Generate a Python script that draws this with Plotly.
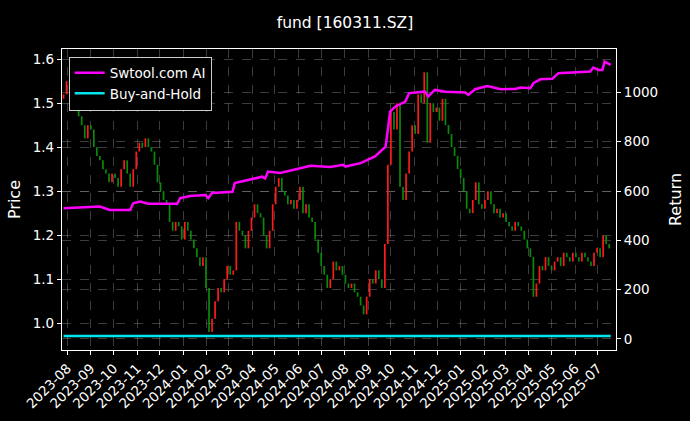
import plotly.graph_objects as go
import pandas as pd

# Prix de cloture (un point tous les 4 jours)
dates = pd.date_range('2023-07-27', periods=181, freq='4D')
close = [1.52, 1.55, 1.53, 1.54, 1.51, 1.47, 1.45, 1.42, 1.45, 1.44,
         1.40, 1.38, 1.37, 1.35, 1.34, 1.32, 1.34, 1.33, 1.31, 1.35,
         1.37, 1.34, 1.31, 1.35, 1.39, 1.41, 1.40, 1.42, 1.40, 1.39,
         1.36, 1.32, 1.30, 1.28, 1.27, 1.23, 1.21, 1.23, 1.22, 1.19,
         1.23, 1.21, 1.19, 1.17, 1.15, 1.13, 1.15, 1.08, 0.98, 1.01,
         1.05, 1.08, 1.07, 1.10, 1.13, 1.11, 1.12, 1.23, 1.21, 1.20,
         1.17, 1.21, 1.24, 1.27, 1.25, 1.24, 1.20, 1.17, 1.21, 1.27,
         1.31, 1.33, 1.30, 1.29, 1.27, 1.28, 1.26, 1.28, 1.31, 1.25,
         1.27, 1.24, 1.23, 1.19, 1.16, 1.13, 1.11, 1.08, 1.10, 1.14,
         1.12, 1.13, 1.11, 1.09, 1.08, 1.09, 1.07, 1.06, 1.04, 1.02,
         1.06, 1.10, 1.09, 1.12, 1.10, 1.08, 1.18, 1.36, 1.48, 1.44,
         1.50, 1.31, 1.28, 1.34, 1.39, 1.45, 1.43, 1.52, 1.50, 1.57,
         1.41, 1.50, 1.48, 1.49, 1.46, 1.51, 1.45, 1.43, 1.40, 1.38,
         1.35, 1.33, 1.30, 1.26, 1.25, 1.28, 1.32, 1.27, 1.26, 1.28,
         1.30, 1.27, 1.25, 1.26, 1.24, 1.25, 1.23, 1.22, 1.21, 1.23,
         1.22, 1.21, 1.19, 1.17, 1.15, 1.06, 1.09, 1.13, 1.12, 1.15,
         1.13, 1.12, 1.14, 1.15, 1.13, 1.16, 1.15, 1.14, 1.16, 1.15,
         1.14, 1.16, 1.15, 1.14, 1.13, 1.16, 1.17, 1.15, 1.20, 1.18,
         1.17]
first_open = 1.51

# Courbe de rendement de la strategie
ai_dates = ['2023-07-27', '2023-09-13', '2023-09-26', '2023-10-23', '2023-10-27', '2023-11-05',
            '2023-11-16', '2023-12-24', '2023-12-28', '2024-01-10', '2024-01-30', '2024-02-03',
            '2024-02-08', '2024-03-06', '2024-03-09', '2024-03-29', '2024-04-14', '2024-04-18',
            '2024-04-22', '2024-05-08', '2024-05-28', '2024-06-17', '2024-07-13', '2024-07-30',
            '2024-08-02', '2024-08-22', '2024-09-10', '2024-09-24', '2024-09-30', '2024-10-07',
            '2024-10-20', '2024-10-25', '2024-11-15', '2024-11-19', '2024-11-28', '2024-12-12',
            '2025-01-07', '2025-01-11', '2025-01-20', '2025-02-05', '2025-02-23', '2025-03-14',
            '2025-03-21', '2025-04-03', '2025-04-07', '2025-04-16', '2025-05-02', '2025-05-10',
            '2025-06-21', '2025-06-25', '2025-07-02', '2025-07-07', '2025-07-10', '2025-07-15',
            '2025-07-18']
ai_return = [530, 537, 523, 523, 550, 557, 548, 548, 571, 580, 584, 571,
             592, 597, 632, 645, 658, 651, 679, 673, 686, 702, 697, 706,
             699, 713, 740, 780, 922, 943, 963, 997, 1003, 983, 1010, 1003,
             1000, 990, 1013, 1026, 1013, 1014, 1020, 1017, 1037, 1053, 1055, 1078,
             1085, 1101, 1091, 1091, 1125, 1116, 1112]

# Buy-and-Hold (quasi plat)
bh_dates = ['2023-07-27', '2024-07-01', '2025-07-18']
bh_return = [12, 12, 12]

month_ticks = pd.date_range('2023-08-01', '2025-07-01', freq='MS')

opens = [first_open] + close[:-1]
highs = [max(o, c) for o, c in zip(opens, close)]
lows = [min(o, c) for o, c in zip(opens, close)]

fig = go.Figure()
# barres fines rouges (hausse) / vertes (baisse)
fig.add_trace(go.Ohlc(x=dates, open=opens, high=highs, low=lows, close=close, tickwidth=0,
                      increasing=dict(line=dict(color='#ff1a1a', width=1.7)),
                      decreasing=dict(line=dict(color='#0a8a0a', width=1.7)),
                      showlegend=False, yaxis='y'))
fig.add_trace(go.Scatter(x=ai_dates, y=ai_return, mode='lines', name='Swtool.com AI',
                         line=dict(color='#ff00ff', width=2.5), yaxis='y2'))
fig.add_trace(go.Scatter(x=bh_dates, y=bh_return, mode='lines', name='Buy-and-Hold',
                         line=dict(color='#00e5ee', width=2.5), yaxis='y2'))

grid = dict(showgrid=True, gridcolor='rgba(150,150,150,0.4)', griddash='dash', gridwidth=0.6)

fig.update_layout(
    width=690, height=421,
    paper_bgcolor='black', plot_bgcolor='black',
    font=dict(family='DejaVu Sans', color='white', size=13.5),
    title=dict(text='fund [160311.SZ]', x=0.5, xanchor='center', y=0.96, font=dict(size=15.5)),
    margin=dict(l=62, r=74, t=49, b=71),
    xaxis=dict(type='date', range=['2023-07-25', '2025-07-25'], tickvals=month_ticks,
               tickformat='%Y-%m', tickangle=-45, rangeslider=dict(visible=False), automargin=False,
               showline=True, linecolor='white', linewidth=1.2, mirror=True,
               ticks='outside', ticklen=4, tickcolor='white', **grid),
    yaxis=dict(title=dict(text='Price', standoff=8), range=[0.939, 1.623], dtick=0.1, tickformat='.1f',
               showline=True, linecolor='white', linewidth=1.2, automargin=False,
               ticks='outside', ticklen=4, tickcolor='white', zeroline=False, **grid),
    yaxis2=dict(title=dict(text='Return', standoff=12), range=[-45, 1176], dtick=200, overlaying='y',
                side='right', showline=True, linecolor='white', linewidth=1.2, automargin=False,
                ticks='outside', ticklen=4, tickcolor='white', zeroline=False, **grid),
    legend=dict(x=0.012, y=0.975, xanchor='left', yanchor='top', bgcolor='black',
                bordercolor='#cccccc', borderwidth=1, font=dict(size=13.5)),
)

# pas de marge blanche autour de la page, pas de barre d'outils
fig.write_html("out.html", config={'displayModeBar': False},
               post_script="document.body.style.margin='0';document.body.style.background='black';")
